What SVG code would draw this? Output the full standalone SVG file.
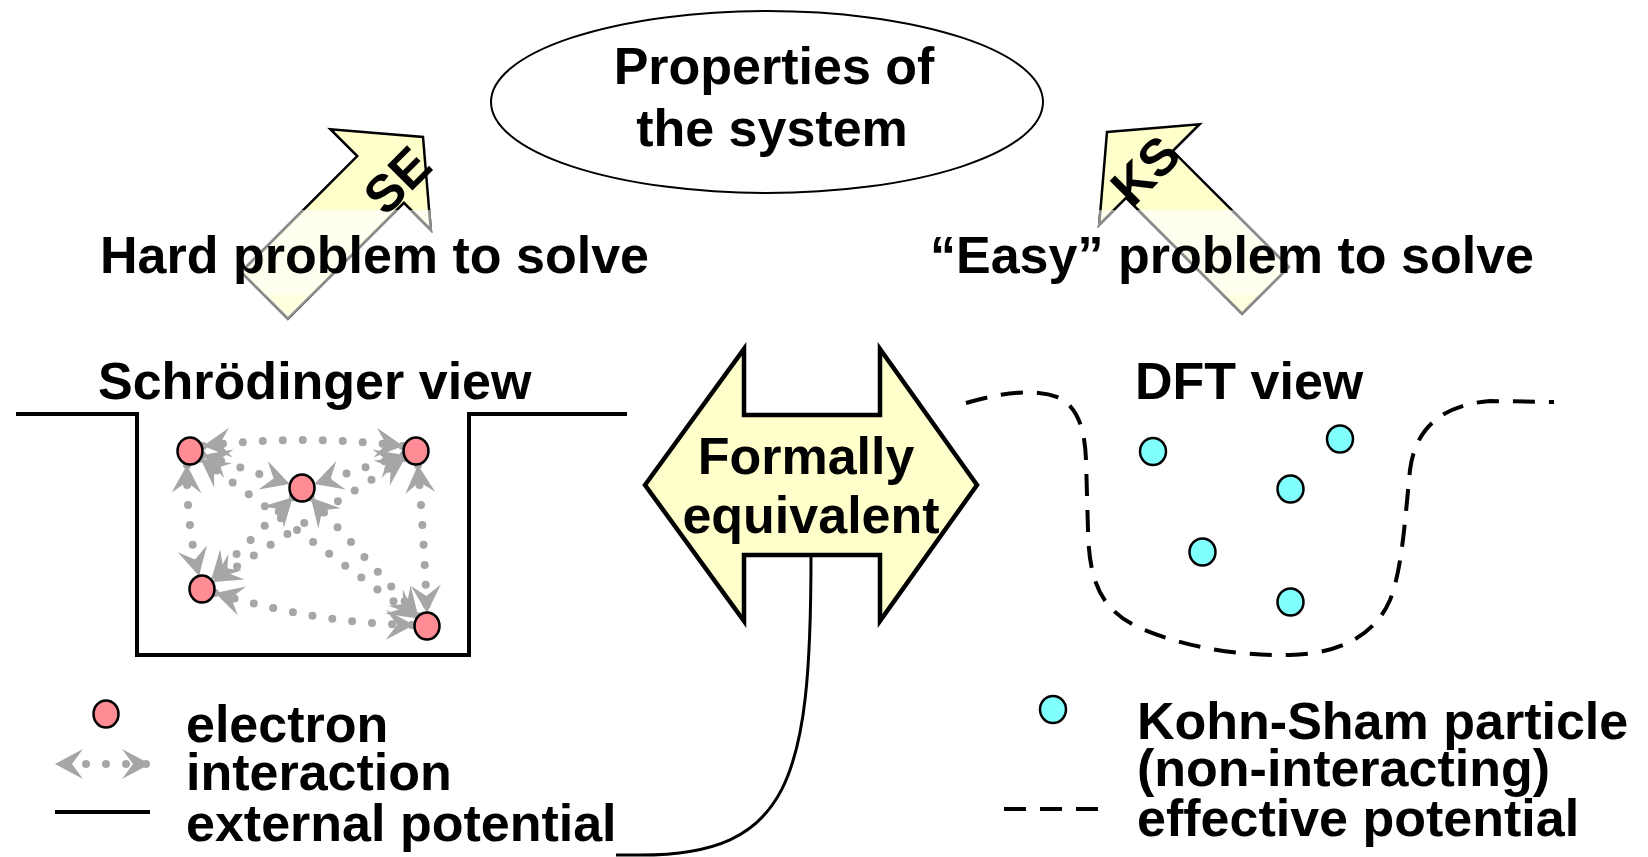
<svg xmlns="http://www.w3.org/2000/svg" xmlns:xlink="http://www.w3.org/1999/xlink" width="1648" height="857" viewBox="0 0 1648 857">
  <defs>
    <style>
      text { font-family: "Liberation Sans", Arial, Helvetica, sans-serif; font-weight: bold; font-size: 52px; fill: #000; }
      .mid { text-anchor: middle; }
      .electron { fill: #FF8C94; stroke: #000; stroke-width: 2.5; }
      .kohnsham { fill: #80FFFF; stroke: #000; stroke-width: 2.5; }
      .ia { fill: none; stroke: #A6A6A6; stroke-width: 8; stroke-linecap: round; stroke-dasharray: 0 20; marker-start: url(#ah); marker-end: url(#ah); }
      .ext { fill: none; stroke: #000; stroke-width: 4; stroke-linejoin: miter; }
      .eff { fill: none; stroke: #000; stroke-width: 4; stroke-dasharray: 22 14; }
      .link { fill: none; stroke: #000; stroke-width: 3; }
    </style>
    <marker id="ah" viewBox="-30 -17 32 34" refX="0" refY="0" markerWidth="32" markerHeight="34" markerUnits="userSpaceOnUse" orient="auto-start-reverse">
      <path d="M0,0 L-28,-15 L-17,0 L-28,15 Z" fill="#A6A6A6"/>
    </marker>
    <!-- block arrow pointing up, tip at origin -->
    <path id="blk" d="M0,0 L71,60 L33,60 L33,224 L-33,224 L-33,60 L-71,60 Z"/>
    <clipPath id="below"><rect x="0" y="210" width="1648" height="200"/></clipPath>
    <clipPath id="band"><rect x="0" y="210" width="1648" height="85"/></clipPath>
  </defs>

  <rect width="1648" height="857" fill="#fff"/>

  <!-- solver arrows -->
  <g id="se-arrow">
    <use xlink:href="#blk" transform="translate(423,137) rotate(45)" fill="#FFFFCC" stroke="#000" stroke-width="2.5"/>
    <g clip-path="url(#below)">
      <use xlink:href="#blk" transform="translate(423,137) rotate(45)" fill="#FFFFDF" stroke="#8C8C8C" stroke-width="2.5"/>
    </g>
    <g clip-path="url(#band)">
      <use xlink:href="#blk" transform="translate(423,137) rotate(45)" fill="#FFFFF0" stroke="#8C8C8C" stroke-width="2.5"/>
    </g>
    <text class="mid" transform="translate(410,193) rotate(-45)">SE</text>
  </g>

  <g id="ks-arrow">
    <use xlink:href="#blk" transform="translate(1107,132) rotate(-45)" fill="#FFFFCC" stroke="#000" stroke-width="2.5"/>
    <g clip-path="url(#below)">
      <use xlink:href="#blk" transform="translate(1107,132) rotate(-45)" fill="#FFFFDF" stroke="#8C8C8C" stroke-width="2.5"/>
    </g>
    <g clip-path="url(#band)">
      <use xlink:href="#blk" transform="translate(1107,132) rotate(-45)" fill="#FFFFF0" stroke="#8C8C8C" stroke-width="2.5"/>
    </g>
    <text class="mid" transform="translate(1158,183) rotate(-45)">KS</text>
  </g>

  <!-- properties node -->
  <g id="properties">
    <ellipse cx="767" cy="102" rx="276" ry="91" fill="#fff" stroke="#000" stroke-width="2"/>
    <text class="mid"><tspan x="774" y="84">Properties of</tspan><tspan x="772" y="146">the system</tspan></text>
  </g>

  <g id="hard-label">
    <text x="100" y="273">Hard problem to solve</text>
  </g>
  <g id="easy-label">
    <text x="930" y="273">“Easy” problem to solve</text>
  </g>

  <!-- Schrödinger view -->
  <g id="schroedinger-view">
    <text x="98" y="399">Schrödinger view</text>
    <path class="ext" d="M16,414 L137,414 L137,655 L469,655 L469,414 L627,414"/>
  </g>

  <!-- interactions between electrons -->
  <g id="interactions">
    <path class="ia" d="M203,446 Q303,434 403,446"/>
    <path class="ia" d="M187,465 Q186,522 199,576"/>
    <path class="ia" d="M418,465 Q424,540 427,613"/>
    <path class="ia" d="M215,593 Q320,624 414,625"/>
    <path class="ia" d="M202.3,455.1 L289.7,483.9"/>
    <path class="ia" d="M403.6,455 L314.4,484"/>
    <path class="ia" d="M292.8,497.2 L211.2,579.8"/>
    <path class="ia" d="M310.7,497.6 L418.3,616.4"/>
    <path class="ia" d="M200.5,458.7 L416.5,618.3"/>
    <path class="ia" d="M405.1,458 L212.9,582"/>
  </g>

  <g id="electron-1"><ellipse class="electron" cx="190" cy="451" rx="12.5" ry="13.5"/></g>
  <g id="electron-2"><ellipse class="electron" cx="416" cy="451" rx="12.5" ry="13.5"/></g>
  <g id="electron-3"><ellipse class="electron" cx="302" cy="488" rx="12.5" ry="13.5"/></g>
  <g id="electron-4"><ellipse class="electron" cx="202" cy="589" rx="12.5" ry="13.5"/></g>
  <g id="electron-5"><ellipse class="electron" cx="427" cy="626" rx="12.5" ry="13.5"/></g>

  <!-- equivalence arrow -->
  <g id="equivalence">
    <path d="M645,485 L744,349 L744,415 L880,415 L880,349 L977,485 L880,621 L880,555 L744,555 L744,621 Z" fill="#FFFFCC" stroke="#000" stroke-width="4.5" stroke-linejoin="miter"/>
    <text class="mid"><tspan x="806" y="474">Formally</tspan><tspan x="811" y="533">equivalent</tspan></text>
  </g>

  <g id="connectors">
    <path class="link" d="M811,555 C811,780 790,855 640,855 L616,855"/>
  </g>

  <!-- DFT view -->
  <g id="dft-view">
    <text x="1135" y="399">DFT view</text>
    <path class="eff" d="M966,403 C990,396 1030,386 1060,398 C1078,408 1085,430 1086,460 L1088,530 C1089,580 1100,610 1140,628 C1180,645 1230,656 1290,655 C1340,654 1375,635 1390,600 C1402,570 1405,520 1410,470 C1415,430 1440,405 1490,401 L1554,402"/>
  </g>

  <g id="ks-1"><ellipse class="kohnsham" cx="1153" cy="451.5" rx="13" ry="13.5"/></g>
  <g id="ks-2"><ellipse class="kohnsham" cx="1340" cy="439" rx="13" ry="13.5"/></g>
  <g id="ks-3"><ellipse class="kohnsham" cx="1290.5" cy="489" rx="13" ry="13.5"/></g>
  <g id="ks-4"><ellipse class="kohnsham" cx="1202.5" cy="552" rx="13" ry="13.5"/></g>
  <g id="ks-5"><ellipse class="kohnsham" cx="1290.5" cy="602" rx="13" ry="13.5"/></g>

  <!-- legend, left -->
  <g id="legend-left">
    <ellipse class="electron" cx="106" cy="714" rx="12.5" ry="13.5"/>
    <path class="ia" d="M55,764 L150,764" style="stroke-dashoffset: 9"/>
    <path class="ext" d="M55,812 L150,812"/>
    <text><tspan x="186" y="742">electron</tspan><tspan x="186" y="790">interaction</tspan><tspan x="186" y="841">external potential</tspan></text>
  </g>

  <!-- legend, right -->
  <g id="legend-right">
    <ellipse class="kohnsham" cx="1053" cy="709.5" rx="13" ry="13.5"/>
    <path class="eff" d="M1004,809 L1098,809"/>
    <text><tspan x="1137" y="739">Kohn-Sham particle</tspan><tspan x="1137" y="786">(non-interacting)</tspan><tspan x="1137" y="836">effective potential</tspan></text>
  </g>
</svg>
